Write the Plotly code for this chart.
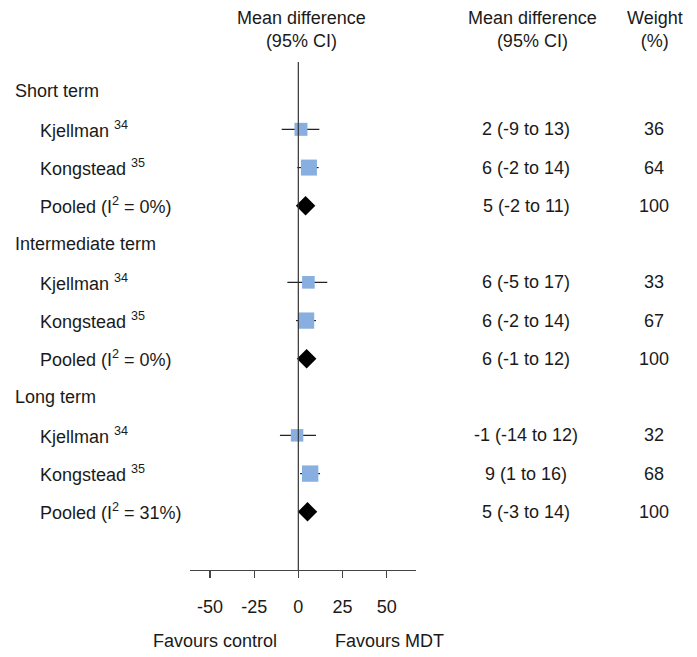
import plotly.graph_objects as go
import math

# ---- data ----
sections = ["Short term", "Intermediate term", "Long term"]
study_labels = ["Kjellman <sup>34</sup>", "Kongstead <sup>35</sup>", "Pooled (I<sup>2</sup> = 0%)",
                "Kjellman <sup>34</sup>", "Kongstead <sup>35</sup>", "Pooled (I<sup>2</sup> = 0%)",
                "Kjellman <sup>34</sup>", "Kongstead <sup>35</sup>", "Pooled (I<sup>2</sup> = 31%)"]
is_pooled = [False, False, True, False, False, True, False, False, True]
# estimates as drawn
md_plot = [1.5, 6.0, 4.1, 5.7, 4.4, 4.7, -0.7, 6.7, 5.2]
lo_plot = [-9.4, -0.6, None, -6.2, -1.3, None, -10.4, 1.0, None]
hi_plot = [11.9, 11.5, None, 16.4, 10.0, None, 10.0, 12.3, None]
ci_text = ["2 (-9 to 13)", "6 (-2 to 14)", "5 (-2 to 11)",
           "6 (-5 to 17)", "6 (-2 to 14)", "6 (-1 to 12)",
           "-1 (-14 to 12)", "9 (1 to 16)", "5 (-3 to 14)"]
weights = [36, 64, 100, 33, 67, 100, 32, 68, 100]
x_ticks = [-50, -25, 0, 25, 50]
x_range = [-61.3, 66.6]

W, H = 697, 657
FONT = "Liberation Sans, Arial, sans-serif"
FS = 18
TXT = "#1a1a1a"

rows_y = []
section_y = []
r = 0
for s in range(len(sections)):
    section_y.append(r)
    r += 1
    for k in range(3):
        rows_y.append(r)
        r += 1
y_range = [12.52, -0.76]

fig = go.Figure()

st_idx = [i for i in range(len(md_plot)) if not is_pooled[i]]
fig.add_trace(go.Scatter(
    x=[md_plot[i] for i in st_idx],
    y=[rows_y[i] for i in st_idx],
    mode="markers",
    marker=dict(symbol="square", color="#88afe0", opacity=1,
                size=[4 + 1.5 * math.sqrt(weights[i]) for i in st_idx],
                line=dict(width=0)),
    error_x=dict(type="data", symmetric=False,
                 array=[hi_plot[i] - md_plot[i] for i in st_idx],
                 arrayminus=[md_plot[i] - lo_plot[i] for i in st_idx],
                 width=0, thickness=1.2, color="#222222"),
    showlegend=False, hoverinfo="skip"))

pl_idx = [i for i in range(len(md_plot)) if is_pooled[i]]
fig.add_trace(go.Scatter(
    x=[md_plot[i] for i in pl_idx],
    y=[rows_y[i] for i in pl_idx],
    mode="markers",
    marker=dict(symbol="diamond", color="black", size=15, line=dict(width=0)),
    showlegend=False, hoverinfo="skip"))

fig.add_shape(type="line", xref="x", yref="paper", x0=0, x1=0, y0=0, y1=1,
              line=dict(color="#333333", width=1.2))

ann = []
def px(xp):
    return xp / W

for s, name in enumerate(sections):
    ann.append(dict(x=px(13), y=section_y[s], xref="paper", yref="y", text=name,
                    xanchor="left", yanchor="middle", showarrow=False))
for i in range(len(study_labels)):
    ann.append(dict(x=px(38), y=rows_y[i], xref="paper", yref="y", text=study_labels[i],
                    xanchor="left", yanchor="middle", showarrow=False))
    ann.append(dict(x=px(526), y=rows_y[i], xref="paper", yref="y", text=ci_text[i],
                    xanchor="center", yanchor="middle", showarrow=False))
    ann.append(dict(x=px(654), y=rows_y[i], xref="paper", yref="y", text=str(weights[i]),
                    xanchor="center", yanchor="middle", showarrow=False))

top_y = 1 + (62 - 29) / (570 - 62)
ann.append(dict(x=px(301), y=top_y, xref="paper", yref="paper",
                text="Mean difference<br>(95% CI)", xanchor="center", yanchor="middle", showarrow=False))
ann.append(dict(x=px(532), y=top_y, xref="paper", yref="paper",
                text="Mean difference<br>(95% CI)", xanchor="center", yanchor="middle", showarrow=False))
ann.append(dict(x=px(655), y=top_y, xref="paper", yref="paper",
                text="Weight<br>(%)", xanchor="center", yanchor="middle", showarrow=False))

fav_y = -(641 - 570) / (570 - 62)
ann.append(dict(x=px(215), y=fav_y, xref="paper", yref="paper", text="Favours control",
                xanchor="center", yanchor="middle", showarrow=False))
ann.append(dict(x=px(389), y=fav_y, xref="paper", yref="paper", text="Favours MDT",
                xanchor="center", yanchor="middle", showarrow=False))

fig.update_layout(
    width=W, height=H,
    margin=dict(l=0, r=0, t=62, b=87),
    paper_bgcolor="white", plot_bgcolor="white",
    font=dict(family=FONT, size=FS, color=TXT),
    annotations=ann,
    xaxis=dict(domain=[190 / W, 416 / W], range=x_range, tickvals=x_ticks,
               ticktext=[str(t) for t in x_ticks],
               showgrid=False, zeroline=False, showline=True, linecolor="#444444", linewidth=1.2,
               ticks="outside", ticklen=7, tickcolor="#444444", tickwidth=1.2,
               ticklabelstandoff=13, fixedrange=True),
    yaxis=dict(range=y_range, visible=False, showgrid=False, zeroline=False, fixedrange=True),
)

fig.write_html("out.html", config={"displayModeBar": False, "staticPlot": True},
               post_script="document.body.style.margin='0';document.body.style.overflow='hidden';")
